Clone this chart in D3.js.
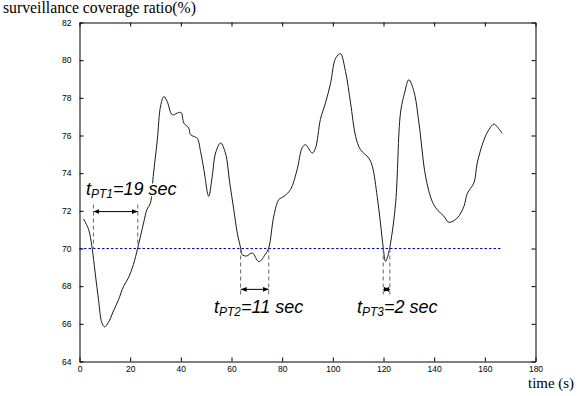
<!DOCTYPE html>
<html>
<head>
<meta charset="utf-8">
<script src="https://cdn.jsdelivr.net/npm/d3@7"></script>
<style>
  body { margin: 0; background: #fff; }
  svg { display: block; }
  .tick text { font-family: "Liberation Sans", Arial, sans-serif; font-size: 8.5px; fill: #000; }
  .ann { font-family: "Liberation Sans", Arial, sans-serif; font-style: italic; font-size: 18px; fill: #000;
         stroke: #fff; stroke-width: 3px; paint-order: stroke; stroke-linejoin: round; }
  .lbl { font-family: "Liberation Serif", "DejaVu Serif", serif; fill: #000; }
</style>
</head>
<body>
<script>
// curve
const time = [1.6, 3.6, 4.9, 6.2, 7.5, 8.8, 9.9, 11.4, 13.4, 15.4, 17.4, 19.3, 21.3, 23.0, 25.3, 26.6, 28.0, 29.1, 30.7, 32.0,
	33.3, 34.6, 36.6, 38.6, 40.1, 41.2, 43.1, 43.8, 45.1, 46.5, 47.8, 49.1, 51.0, 52.4, 53.7, 55.7, 57.6, 59.3, 60.9, 62.3,
	63.6, 64.2, 65.9, 68.2, 70.8, 73.4, 74.7, 76.7, 78.7, 80.7, 83.3, 85.9, 87.9, 89.2, 91.9, 93.2, 95.1, 97.1, 99.1, 101.1,
	103.0, 105.0, 107.0, 109.0, 110.9, 114.2, 115.6, 117.5, 118.8, 119.9, 120.8, 121.7, 122.8, 124.8, 126.7, 128.3, 130.0, 132.0, 134.0, 136.6,
	139.2, 141.2, 143.8, 145.8, 149.1, 151.7, 153.1, 155.7, 157.0, 159.6, 161.6, 163.6, 164.9, 166.9];
const ratio = [71.57, 71.01, 70.1, 68.69, 67.28, 66.07, 65.84, 66.07, 66.68, 67.28, 67.99, 68.44, 69.15, 70.04, 71.36, 72.06, 72.42, 73.84, 75.75, 77.56,
	78.07, 77.81, 77.1, 77.19, 77.22, 76.66, 76.4, 76.05, 75.95, 75.85, 75.15, 74.19, 72.77, 73.84, 75.07, 75.6, 75.07, 73.49, 72.06, 70.81,
	70.03, 69.68, 69.6, 69.76, 69.3, 69.7, 70.03, 71.72, 72.6, 72.77, 73.13, 74.19, 75.35, 75.51, 75.07, 75.35, 76.86, 77.73, 78.77, 80.1,
	80.34, 79.4, 77.73, 75.95, 75.25, 74.8, 74.36, 72.77, 71.36, 70.03, 69.32, 69.59, 70.3, 72.44, 77.19, 78.25, 78.96, 78.34, 76.66, 73.84,
	72.51, 72.06, 71.72, 71.39, 71.62, 72.22, 72.93, 73.49, 74.54, 75.75, 76.31, 76.61, 76.46, 76.1];

const threshold = 70, thresholdEnd = 166.7;
const xTicks = [0, 20, 40, 60, 80, 100, 120, 140, 160, 180];
const yTicks = [64, 66, 68, 70, 72, 74, 76, 78, 80, 82];

// time spans below the threshold
const spanNames = ["PT1", "PT2", "PT3"];
const spanText = ["=19 sec", "=11 sec", "=2 sec"];
const spanStart = [5.5, 63.6, 119.9];
const spanEnd = [23.0, 74.7, 122.5];

const w = 580, h = 396,
	margin = {left: 79.5, right: 44.5, top: 22.5, bottom: 34.5};

const x = d3.scaleLinear().domain([0, 180]).range([margin.left, w - margin.right]),
	y = d3.scaleLinear().domain([64, 82]).range([h - margin.bottom, margin.top]);

const svg = d3.select("body").append("svg")
	.attr("width", w)
	.attr("height", h);

// axes, matlab style ticks pointing in
svg.append("g")
	.attr("transform", "translate(0," + y(64) + ")")
	.call(d3.axisBottom(x).tickValues(xTicks).tickSizeInner(-4).tickSizeOuter(0).tickPadding(4));
svg.append("g")
	.attr("transform", "translate(0," + y(82) + ")")
	.call(d3.axisTop(x).tickValues(xTicks).tickSizeInner(-4).tickSizeOuter(0).tickFormat(""));
svg.append("g")
	.attr("transform", "translate(" + x(0) + ",0)")
	.call(d3.axisLeft(y).tickValues(yTicks).tickSizeInner(-4).tickSizeOuter(0).tickPadding(8));
svg.append("g")
	.attr("transform", "translate(" + x(180) + ",0)")
	.call(d3.axisRight(y).tickValues(yTicks).tickSizeInner(-4).tickSizeOuter(0).tickFormat(""));
svg.selectAll(".domain").attr("stroke", "#000");
svg.selectAll(".tick line").attr("stroke", "#000");

// threshold
svg.append("line")
	.attr("x1", x(0)).attr("x2", x(thresholdEnd))
	.attr("y1", y(threshold)).attr("y2", y(threshold))
	.attr("stroke", "#0000ff")
	.attr("stroke-width", 1)
	.attr("stroke-dasharray", "2.5,2");

// the curve
const line = d3.line()
	.x((d, i) => x(time[i]))
	.y(d => y(d))
	.curve(d3.curveCatmullRom.alpha(0.5));

svg.append("path")
	.datum(ratio)
	.attr("d", line)
	.attr("fill", "none")
	.attr("stroke", "#1a1a1a")
	.attr("stroke-width", 1);

// arrow heads
const defs = svg.append("defs");
defs.append("marker")
	.attr("id", "head")
	.attr("viewBox", "0 0 10 10")
	.attr("refX", 10).attr("refY", 5)
	.attr("markerWidth", 6).attr("markerHeight", 6)
	.attr("markerUnits", "userSpaceOnUse")
	.attr("orient", "auto-start-reverse")
	.append("path")
	.attr("d", "M0,1 L10,5 L0,9 Z")
	.attr("fill", "#000");

spanNames.forEach((name, i) => {
	const first = i === 0,
		top = first ? y(72.33) : y(threshold),
		bottom = first ? y(threshold) : y(67.56),
		arrowY = first ? y(71.96) : y(67.83);

	[spanStart[i], spanEnd[i]].forEach(t => {
		svg.append("line")
			.attr("x1", x(t)).attr("x2", x(t))
			.attr("y1", top).attr("y2", bottom)
			.attr("stroke", "#666")
			.attr("stroke-width", 1)
			.attr("stroke-dasharray", "4,3");
	});

	svg.append("line")
		.attr("x1", x(spanStart[i])).attr("x2", x(spanEnd[i]))
		.attr("y1", arrowY).attr("y2", arrowY)
		.attr("stroke", "#000")
		.attr("stroke-width", 1)
		.attr("marker-start", "url(#head)")
		.attr("marker-end", "url(#head)");

	const label = svg.append("text").attr("class", "ann");
	label.append("tspan").text("t");
	label.append("tspan").text(name).attr("font-size", "12px").attr("dy", 3);
	label.append("tspan").text(spanText[i]).attr("dy", -3);

	const textX = [86, 214, 357][i], textY = first ? 195 : 313;
	label.attr("x", textX).attr("y", textY);
});

// titles, fitted to width
const title = svg.append("text")
	.attr("class", "lbl")
	.attr("x", 3)
	.attr("y", 13)
	.style("font-size", "14px")
	.text("surveillance coverage ratio(%)");
title.style("font-size", (14 * 193 / title.node().getComputedTextLength()) + "px");

const xLabel = svg.append("text")
	.attr("class", "lbl")
	.attr("text-anchor", "end")
	.attr("x", 574)
	.attr("y", 388)
	.style("font-size", "14px")
	.text("time (s)");
xLabel.style("font-size", (14 * 46 / xLabel.node().getComputedTextLength()) + "px");
</script>
</body>
</html>
